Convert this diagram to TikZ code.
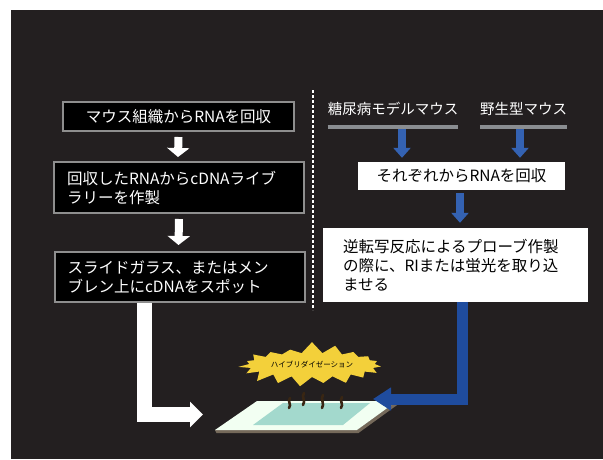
\documentclass[tikz,border=0pt]{standalone}
\usepackage{fontspec}
\setmainfont{Noto Sans CJK JP}
\usetikzlibrary{arrows.meta,shapes.symbols}

\definecolor{bgdark}{HTML}{231F20}
\definecolor{boxgray}{HTML}{8E8E8E}
\definecolor{bargray}{HTML}{8A8D91}
\definecolor{probeblue}{HTML}{3462B2}
\definecolor{lineblue}{HTML}{1F4C9E}
\definecolor{burst}{HTML}{F3D03A}
\definecolor{spotgreen}{HTML}{A3D9CD}
\definecolor{slideshadow}{HTML}{75695A}

\tikzset{%
    boxfont/.style={font=\fontsize{15.5}{19}\selectfont},
    darkbox/.style={boxfont, draw=boxgray, line width=2pt, fill=black,
        text=white, align=left, inner sep=0pt},
    lightbox/.style={boxfont, fill=white, text=black, align=left,
        inner sep=0pt},
    mouse/.style={font=\fontsize{14.5}{17}\selectfont, text=white,
        inner sep=0pt, minimum height=24pt},
    underbar/.style={draw=bargray, line width=3.5pt},
    whitearrow/.style={draw=white, line width=8pt,
        -{Triangle[width=22pt,length=9pt]}},
    bluearrow/.style={draw=probeblue, line width=8pt,
        -{Triangle[width=17pt,length=10pt]}},
    fatwhite/.style={draw=white, line width=14.5pt,
        -{Triangle[width=25pt,length=13pt]}},
    fatblue/.style={draw=lineblue, line width=11pt,
        -{Triangle[width=22pt,length=18pt]}},
    probe/.style={draw=black!70!brown, line width=2.6pt, line cap=round}
}

\begin{document}
\begin{tikzpicture}[x=1pt, y=-1pt]
  \useasboundingbox (0,0) rectangle (603,459);
  \fill[white] (0,0) rectangle (603,459);
  \fill[bgdark] (11,10) rectangle (603,459);

  % left column: library on the slide
  \node (m1) [darkbox, align=center, minimum width=231pt, minimum height=29pt]
    at (178.5,116.5) {マウス組織からRNAを回収};
  \node (m2) [darkbox, text width=224pt, inner xsep=13pt, minimum height=51pt]
    at (179,187.5) {回収したRNAからcDNAライブ\\ラリーを作製};
  \node (m3) [darkbox, text width=224pt, inner xsep=13pt, minimum height=50pt]
    at (179.5,277) {スライドガラス、またはメン\\ブレン上にcDNAをスポット};

  % right column: probes
  \node (dm) [mouse, minimum width=130pt] at (393,109) {糖尿病モデルマウス};
  \node (wt) [mouse, minimum width=87pt] at (523.5,109) {野生型マウス};
  \node (rna) [lightbox, align=center, minimum width=207pt, minimum height=28pt]
    at (461.5,176) {それぞれからRNAを回収};
  \node (probe) [lightbox, text width=225pt, inner xsep=20pt, minimum height=74pt]
    at (455.5,265) {逆転写反応によるプローブ作製\\の際に、RIまたは蛍光を取り込\\ませる};

  \node (hyb) [starburst, fill=burst, draw=none, minimum width=150pt,
    minimum height=48pt, starburst points=19, starburst point height=12pt,
    random starburst=7, inner sep=0pt, font=\fontsize{7.5}{9}\selectfont]
    at (312,365) {ハイブリダイゼーション};

  \draw[white, line width=1.5pt, dash pattern=on 3pt off 2pt] (313,90) -- (313,310);

  % slide
  \coordinate (sa) at (215,430);
  \coordinate (sb) at (357,430);
  \coordinate (sc) at (397,401);
  \coordinate (sd) at (257,401);
  \fill[slideshadow] ([shift={(1.5,3)}]sa) -- ([shift={(1.5,3)}]sb)
    -- ([shift={(1.5,3)}]sc) -- (sc) -- (sb) -- (sa) -- cycle;
  \fill[white!95!green] (sa) -- (sb) -- (sc) -- (sd) -- cycle;
  \fill[spotgreen] (253,425) -- (343,425) -- (370,403) -- (283,403) -- cycle;
  \coordinate (slW) at (203,414.5);
  \coordinate (slE) at (373,399);

  \foreach \x/\t/\b in {290/398/408, 304/393/405, 323/395/408, 342/397/408}
    \draw[probe] (\x,\t) .. controls (\x-3,\t+4) and (\x+2,\b-4) .. (\x-1,\b);

  \draw[underbar] ([yshift=-6pt]dm.south west) -- ([yshift=-6pt]dm.south east);
  \draw[underbar] ([yshift=-6pt]wt.south west) -- ([yshift=-6pt]wt.south east);

  \draw[whitearrow] ([yshift=-5pt]m1.south) -- ([xshift=-1pt,yshift=4pt]m2.north);
  \draw[whitearrow] ([yshift=-5pt]m2.south) -- ([xshift=-1pt,yshift=6pt]m3.north);
  \draw[bluearrow] ([xshift=9pt,yshift=-8pt]dm.south) -- ([xshift=-59.5pt,yshift=4pt]rna.north);
  \draw[bluearrow] ([xshift=-3.5pt,yshift=-8pt]wt.south) -- ([xshift=58.5pt,yshift=4pt]rna.north);
  \draw[bluearrow] ([xshift=-1.5pt,yshift=-3pt]rna.south) -- ([xshift=4.5pt,yshift=5pt]probe.north);
  \draw[fatwhite] ([xshift=91pt]m3.south west) |- (slW);
  \draw[fatblue] ([xshift=7pt]probe.south) |- (slE);
\end{tikzpicture}
\end{document}
